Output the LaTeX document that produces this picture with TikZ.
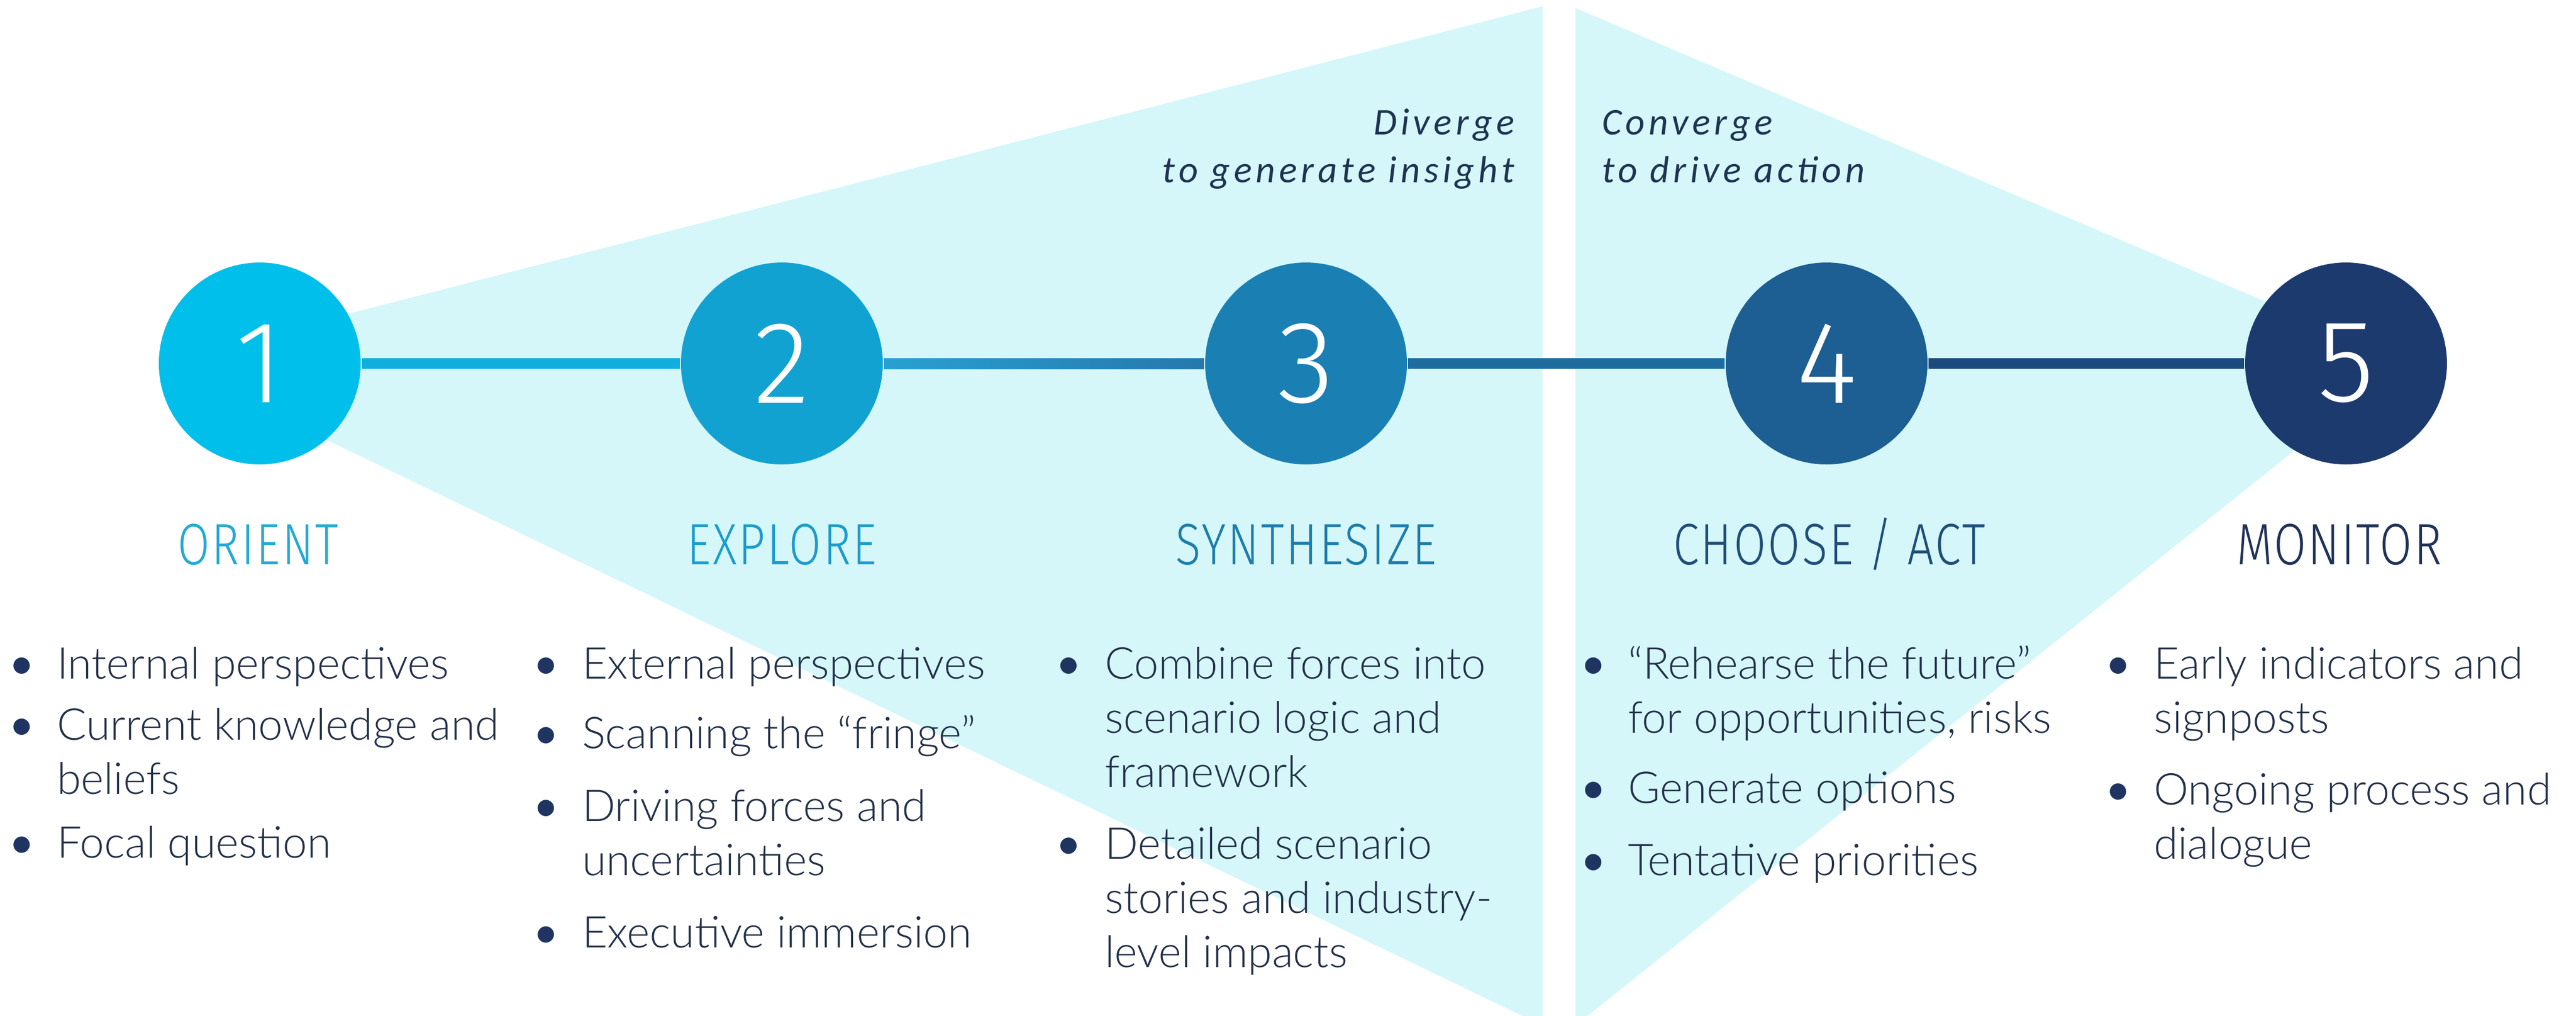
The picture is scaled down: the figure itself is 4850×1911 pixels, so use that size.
\documentclass[tikz,border=0pt]{standalone}
\usepackage{fontspec}
\setmainfont{Carlito}
\newfontfamily\bodyfont{Lato Light}
\newfontfamily\headfont[LetterSpace=4]{Fira Sans Light}
\newfontfamily\digfont{Fira Sans Light}
\newfontfamily\labfont[LetterSpace=10.5]{Carlito}
\definecolor{tri}{RGB}{213,247,250}
\definecolor{cA}{RGB}{0,191,234}
\definecolor{cB}{RGB}{18,162,210}
\definecolor{cC}{RGB}{26,128,179}
\definecolor{cD}{RGB}{29,94,147}
\definecolor{cE}{RGB}{28,58,110}
\definecolor{lAB}{RGB}{16,174,220}
\definecolor{lBCa}{RGB}{40,160,210}
\definecolor{lBCb}{RGB}{38,120,172}
\definecolor{lCD}{RGB}{30,108,158}
\definecolor{lDE}{RGB}{29,74,126}
\definecolor{hA}{RGB}{35,169,212}
\definecolor{hB}{RGB}{30,155,203}
\definecolor{hC}{RGB}{28,125,171}
\definecolor{hD}{RGB}{31,78,122}
\definecolor{hE}{RGB}{31,51,88}
\definecolor{txt}{RGB}{34,48,72}
\definecolor{bul}{RGB}{31,52,96}
\definecolor{lab}{RGB}{30,52,82}
\newcommand\hdtxt[1]{\scalebox{0.8}[1]{#1}}
\newcommand\itemtxt[1]{\parbox[t]{90pt}{\raggedright #1}}
\tikzset{
  circ/.style={circle, minimum size=38pt, inner sep=0pt, text=white,
    font=\digfont\fontsize{22}{22}\selectfont},
  conn/.style={line width=2pt},
  head/.style={anchor=base, inner sep=0pt, font=\headfont\fontsize{11}{11}\selectfont},
  itm/.style={anchor=base west, inner sep=0pt, text=txt,
    font=\bodyfont\fontsize{8.25}{10.2}\selectfont},
  bullet/.style={anchor=base, inner sep=0pt, text=bul,
    font=\fontsize{8.7}{10.2}\selectfont},
  lbl/.style={inner sep=0pt, text=lab, font=\labfont\itshape\fontsize{7.1}{9}\selectfont}
}
\begin{document}
\begin{tikzpicture}[x=0.1pt,y=-0.1pt]
\useasboundingbox (0,0) rectangle (4850,1911);
\clip (0,0) rectangle (4850,1911);
% background wedges
\fill[tri] (308,680) -- (2904,12) -- (2904,1930) -- cycle;
\fill[tri] (2966,15) -- (4530,680) -- (2966,1930) -- cycle;
% italic labels
\node[lbl, anchor=base east] (div) at (2853,253)
  {\parbox[t]{80pt}{\raggedleft Diverge\\to generate insight}};
\node[lbl, anchor=base west] (conv) at (3014,253)
  {\parbox[t]{80pt}{\raggedright Converge\\to drive action}};
% circles
\node[circ, fill=cA] (c1) at (489,684) {1};
\node[circ, fill=cB] (c2) at (1472,684) {2};
\node[circ, fill=cC] (c3) at (2459,684) {3};
\node[circ, fill=cD] (c4) at (3439,684) {4};
\node[circ, fill=cE] (c5) at (4417,684) {5};
\draw[conn, lAB] (c1) -- (c2);
\shade[left color=lBCa, right color=lBCb] ([yshift=1pt]c2.east) rectangle ([yshift=-1pt]c3.west);
\draw[conn, lCD] (c3) -- (c4);
\draw[conn, lDE] (c4) -- (c5);
% headings
\node[head, text=hA] (h1) at (486,1062) {\hdtxt{ORIENT}};
\node[head, text=hB] (h2) at (1472,1062) {\hdtxt{EXPLORE}};
\node[head, text=hC] (h3) at (2459,1062) {\hdtxt{SYNTHESIZE}};
\node[head, text=hD] (h4) at (3444,1062) {\hdtxt{CHOOSE / ACT}};
\node[head, text=hE] (h5) at (4404,1062) {\hdtxt{MONITOR}};
% column 1
\node[bullet] (b11) at (41,1277) {•};
\node[itm] (t11) at (105,1277) {\itemtxt{Internal perspectives}};
\node[bullet] (b12) at (41,1392) {•};
\node[itm] (t12) at (105,1392) {\itemtxt{Current knowledge and\\beliefs}};
\node[bullet] (b13) at (41,1614) {•};
\node[itm] (t13) at (105,1614) {\itemtxt{Focal question}};
% column 2
\node[bullet] (b21) at (1028,1277) {•};
\node[itm] (t21) at (1094,1277) {\itemtxt{External perspectives}};
\node[bullet] (b22) at (1028,1408) {•};
\node[itm] (t22) at (1094,1408) {\itemtxt{Scanning the “fringe”}};
\node[bullet] (b23) at (1028,1545) {•};
\node[itm] (t23) at (1094,1545) {\itemtxt{Driving forces and\\uncertainties}};
\node[bullet] (b24) at (1028,1783) {•};
\node[itm] (t24) at (1094,1783) {\itemtxt{Executive immersion}};
% column 3
\node[bullet] (b31) at (2012,1277) {•};
\node[itm] (t31) at (2078,1277) {\itemtxt{Combine forces into\\scenario logic and\\framework}};
\node[bullet] (b32) at (2012,1616) {•};
\node[itm] (t32) at (2078,1616) {\itemtxt{Detailed scenario\\stories and industry-\\level impacts}};
% column 4
\node[bullet] (b41) at (3000,1277) {•};
\node[itm] (t41) at (3063,1277) {\itemtxt{“Rehearse the future”\\for opportunities, risks}};
\node[bullet] (b42) at (3000,1511) {•};
\node[itm] (t42) at (3063,1511) {\itemtxt{Generate options}};
\node[bullet] (b43) at (3000,1647) {•};
\node[itm] (t43) at (3063,1647) {\itemtxt{Tentative priorities}};
% column 5
\node[bullet] (b51) at (3988,1277) {•};
\node[itm] (t51) at (4053,1277) {\itemtxt{Early indicators and\\signposts}};
\node[bullet] (b52) at (3988,1514) {•};
\node[itm] (t52) at (4053,1514) {\itemtxt{Ongoing process and\\dialogue}};
\end{tikzpicture}
\end{document}
